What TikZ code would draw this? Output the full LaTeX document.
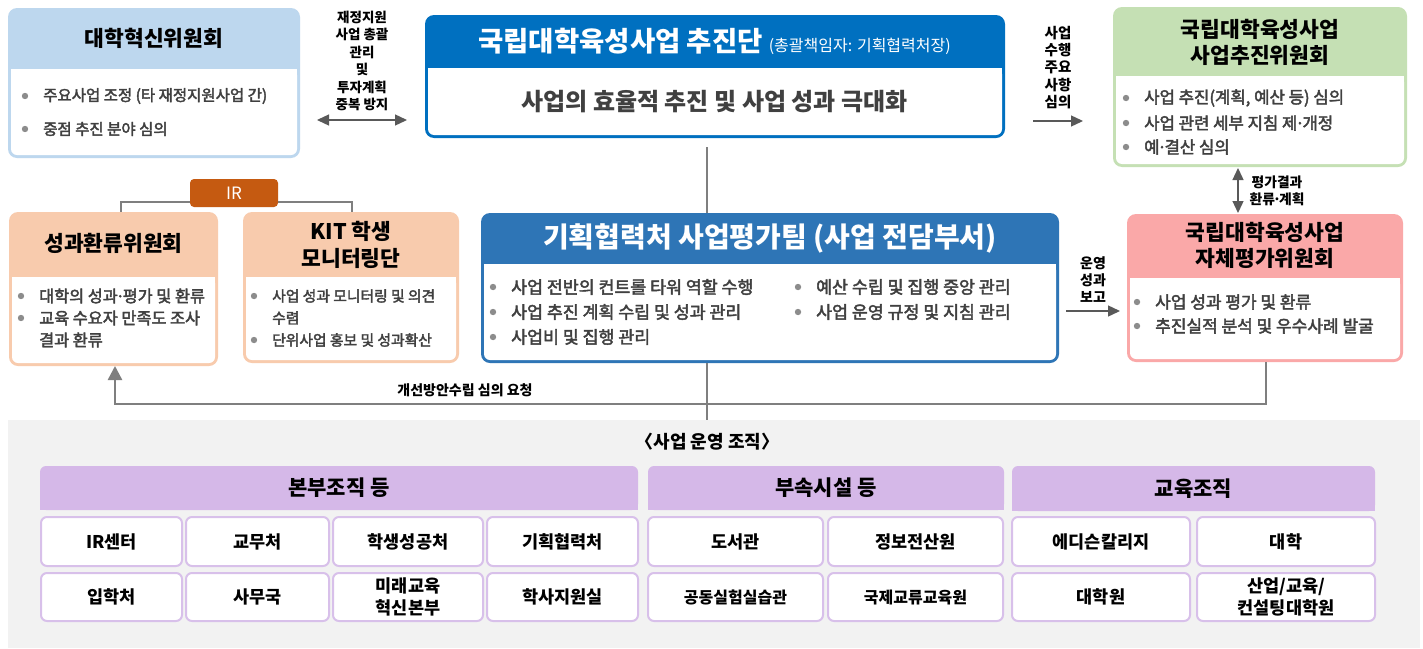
\documentclass[tikz,border=0pt]{standalone}
\usepackage{fontspec}
\setmainfont{Noto Sans CJK KR}
\newfontfamily\bodyf{Noto Sans CJK KR}[FakeBold=2.5]
\usetikzlibrary{arrows.meta,calc}
\definecolor{hsblue}{HTML}{BDD7EE}
\definecolor{jcblue}{HTML}{0070C0}
\definecolor{psgreen}{HTML}{C5E0B4}
\definecolor{peach}{HTML}{F8CBAD}
\definecolor{ptblue}{HTML}{2E75B6}
\definecolor{sepink}{HTML}{FAA8A8}
\definecolor{irorange}{HTML}{C55A11}
\definecolor{secpurple}{HTML}{D5B8E8}
\definecolor{cellline}{HTML}{D8C0EA}
\definecolor{orggray}{HTML}{F2F2F2}
\definecolor{connc}{HTML}{7F7F7F}
\definecolor{arrc}{HTML}{595959}
\definecolor{bodytxt}{HTML}{404040}
\definecolor{dotc}{HTML}{8C8C8C}
\newcommand\fsz[2]{\fontsize{#1}{#2}\selectfont}
\newcommand\mdot{\makebox[0.3em]{·}}
% panel: name, x1, y1, x2, y2, header bottom, colour
\newcommand\mkpanel[7]{%
  \node[fill=#7, rounded corners=9pt, inner sep=0pt, outer sep=0pt,
        minimum width={#4-#2}, minimum height={#5-#3}, anchor=north west] (#1) at (#2,#3) {};
  \fill[white, rounded corners=6pt] (#2+3,#6) rectangle (#4-3,#5-3);
  \fill[white] (#2+3,#6) rectangle (#4-3,#6+12);
}
% bullet item: name, x, y, size, text
\newcommand\bitem[5]{%
  \fill[dotc] (#2,#3) circle (3.2pt);
  \node[anchor=west, inner sep=0pt, text=bodytxt, font=\bodyf\fsz{#4}{#4}] (#1) at (#2+18,#3) {#5};
}
% cell: name, x1, y1, x2, y2, text
\newcommand\mkcell[6]{%
  \node[cellbox, minimum width={#4-#2}, minimum height={#5-#3}] (#1) at ({(#2+#4)/2},{(#3+#5)/2}) {#6};
}
% section header: name, x1, y1, x2, y2, text
\newcommand\mksec[6]{%
  \node[fill=secpurple, rounded corners=6pt, inner sep=0pt, outer sep=0pt,
        minimum width={#4-#2}, minimum height={#5-#3}, anchor=north west] (#1) at (#2,#3) {};
  \fill[secpurple] (#2,#3+15) rectangle (#4,#5);
  \node[inner sep=0pt, font=\fsz{21}{21}\bfseries] (#1-t) at ({(#2+#4)/2},{(#3+#5)/2}) {#6};
}
\tikzset{
  ttl/.style={inner sep=0pt, align=center, font=\fsz{21.5}{26.5}\bfseries},
  lbl/.style={inner sep=0pt, align=center, font=\fsz{13.5}{17.5}\bfseries},
  conn/.style={draw=connc, line width=2.5pt},
  larrow/.style={draw=arrc, line width=1.3pt, -{Triangle[length=12pt,width=11pt]}},
  dblarrow/.style={draw=arrc, line width=1.3pt, {Triangle[length=12pt,width=11pt]}-{Triangle[length=12pt,width=11pt]}},
  cellbox/.style={draw=cellline, line width=2pt, fill=white, rounded corners=6pt, inner sep=0pt,
                  align=center, font=\fsz{17.5}{22}\bfseries},
}
\begin{document}
\begin{tikzpicture}[x=1pt,y=-1pt]
\useasboundingbox (0,0) rectangle (1423,648);
\fill[white] (0,0) rectangle (1423,648);

% ---------- panels ----------
\mkpanel{hs}{8}{8}{300}{158}{69}{hsblue}
\node[ttl] (hs-t) at (154,38) {대학혁신위원회};
\bitem{hs-b1}{25}{96}{15.5}{주요사업 조정 (타 재정지원사업 간)}
\bitem{hs-b2}{25}{129}{15.5}{중점 추진 분야 심의}

\mkpanel{jc}{425}{15}{1005}{138}{68}{jcblue}
\node[inner sep=0pt, text=white] (jc-t) at (714.5,41)
  {{\fsz{27.5}{27.5}\bfseries 국립대학육성사업 추진단}\hspace{6pt}{\fsz{16}{16}(총괄책임자: 기획협력처장)}};
\node[inner sep=0pt, text=bodytxt, font=\fsz{24}{24}\bfseries] (jc-b) at (714.5,102) {사업의 효율적 추진 및 사업 성과 극대화};

\mkpanel{ps}{1113}{7}{1407}{167}{76}{psgreen}
\node[ttl] (ps-t) at (1260,42.5) {국립대학육성사업\\사업추진위원회};
\bitem{ps-b1}{1126}{98}{16.7}{사업 추진(계획, 예산 등) 심의}
\bitem{ps-b2}{1126}{123}{16.7}{사업 관련 세부 지침 제\mdot 개정}
\bitem{ps-b3}{1126}{147}{16.7}{예\mdot 결산 심의}

\mkpanel{sh}{9}{212}{218}{366}{277}{peach}
\node[ttl] (sh-t) at (113.5,243) {성과환류위원회};
\bitem{sh-b1}{21}{296}{16.3}{대학의 성과\mdot 평가 및 환류}
\bitem{sh-b2}{21}{318}{16.3}{교육 수요자 만족도 조사}
\node[anchor=west, inner sep=0pt, text=bodytxt, font=\bodyf\fsz{16.3}{16.3}] (sh-b2c) at (39,340) {결과 환류};

\mkpanel{km}{243}{212}{459}{363}{277}{peach}
\node[ttl] (km-t) at (351,245) {KIT 학생\\모니터링단};
\bitem{km-b1}{254}{296}{14.8}{사업 성과 모니터링 및 의견}
\node[anchor=west, inner sep=0pt, text=bodytxt, font=\bodyf\fsz{14.8}{14.8}] (km-b1c) at (272,318) {수렴};
\bitem{km-b2}{254}{340}{14.8}{단위사업 홍보 및 성과확산}

\node[fill=irorange, rounded corners=4pt, minimum width=88pt, minimum height=28pt, inner sep=0pt,
      text=white, font=\fsz{17}{17}] (ir) at (234,193) {IR};

\mkpanel{pt}{481}{213}{1059}{363}{264}{ptblue}
\node[inner sep=0pt, text=white, font=\fsz{28}{28}\bfseries] (pt-t) at (770,238) {기획협력처 사업평가팀 (사업 전담부서)};
\bitem{pt-b1}{493}{287}{17.3}{사업 전반의 컨트롤 타워 역할 수행}
\bitem{pt-b2}{493}{312}{17.3}{사업 추진 계획 수립 및 성과 관리}
\bitem{pt-b3}{493}{337}{17.3}{사업비 및 집행 관리}
\bitem{pt-b4}{798}{287}{17.3}{예산 수립 및 집행 중앙 관리}
\bitem{pt-b5}{798}{312}{17.3}{사업 운영 규정 및 지침 관리}

\mkpanel{se}{1127}{214}{1403}{362}{278}{sepink}
\node[ttl] (se-t) at (1265,245.5) {국립대학육성사업\\자체평가위원회};
\bitem{se-b1}{1137}{302}{17}{사업 성과 평가 및 환류}
\bitem{se-b2}{1137}{326}{17}{추진실적 분석 및 우수사례 발굴}

% ---------- operating organisation ----------
\node[fill=orggray, inner sep=0pt, outer sep=0pt, minimum width=1412pt, minimum height=228pt, anchor=north west] (org) at (8,420) {};
\node[inner sep=0pt, font=\fsz{18}{18}\bfseries] (org-t) at (707.5,442)
  {\makebox[0.5em][r]{〈}사업 운영 조직\makebox[0.5em][l]{〉}};

\mksec{s1}{40}{466}{638}{510}{본부조직 등}
\mksec{s2}{648}{466}{1004}{510}{부속시설 등}
\mksec{s3}{1012}{466}{1375}{511}{교육조직}

\mkcell{c11}{41}{517}{182}{566}{IR센터}
\mkcell{c12}{186}{517}{329}{566}{교무처}
\mkcell{c13}{333}{517}{483}{566}{학생성공처}
\mkcell{c14}{487}{517}{638}{566}{기획협력처}
\mkcell{c15}{648}{517}{823}{566}{도서관}
\mkcell{c16}{828}{517}{1003}{566}{정보전산원}
\mkcell{c17}{1012}{517}{1190}{566}{에디슨칼리지}
\mkcell{c18}{1197}{517}{1375}{566}{대학}

\mkcell{c21}{41}{573}{182}{621}{입학처}
\mkcell{c22}{186}{573}{329}{621}{사무국}
\mkcell{c23}{333}{573}{483}{621}{미래교육\\혁신본부}
\mkcell{c24}{487}{573}{638}{621}{학사지원실}
\mkcell{c25}{648}{573}{823}{621}{\fsz{16}{16}공동실험실습관}
\mkcell{c26}{828}{573}{1003}{621}{\fsz{16}{16}국제교류교육원}
\mkcell{c27}{1012}{573}{1190}{621}{대학원}
\mkcell{c28}{1197}{573}{1375}{621}{산업/교육/\\컨설팅대학원}

% ---------- connectors ----------
\coordinate (spine) at (707,0);
\draw[conn] ([yshift=-9pt]jc.south -| spine) -- (pt.north -| spine);
\draw[conn] (pt.south -| spine) -- (org.north -| spine);

\coordinate (irl) at (121,202);
\coordinate (irr) at (352,202);
\draw[conn] (ir.west |- irl) -- (irl) -- (sh.north -| irl);
\draw[conn] (ir.east |- irr) -- (irr) -- (km.north -| irr);

\coordinate (fbr) at (1266,404);
\coordinate (fbl) at (115,404);
\draw[conn, -{Triangle[length=14pt,width=14pt]}] (se.south -| fbr) -- (fbr) -- (fbl) -- (sh.south -| fbl);
\node[lbl, font=\fsz{14}{14}\bfseries] (fb-l) at (465,390) {개선방안수립 심의 요청};

\coordinate (a1s) at (317,120);
\coordinate (a1e) at (407,120);
\draw[dblarrow] (a1s) -- (a1e);
\node[lbl] (a1-l) at (362,61) {재정지원\\사업 총괄\\관리\\및\\투자계획\\중복 방지};

\coordinate (a2s) at (1033,121);
\coordinate (a2e) at (1083,121);
\draw[larrow] (a2s) -- (a2e);
\node[lbl, font=\fsz{14.5}{17.25}\bfseries] (a2-l) at (1058,67.5) {사업\\수행\\주요\\사항\\심의};

\coordinate (a3x) at (1238,0);
\draw[dblarrow] ([yshift=-1pt]ps.south -| a3x) -- ([yshift=1pt]se.north -| a3x);
\node[lbl, font=\fsz{13.8}{16.5}\bfseries] (a3-l) at (1277,191) {평가결과\\환류\mdot 계획};

\coordinate (a4s) at (1066,311);
\coordinate (a4e) at (1120,311);
\draw[larrow] (a4s) -- (a4e);
\node[lbl, font=\fsz{14}{17}\bfseries] (a4-l) at (1093,280) {운영\\성과\\보고};
\end{tikzpicture}
\end{document}
